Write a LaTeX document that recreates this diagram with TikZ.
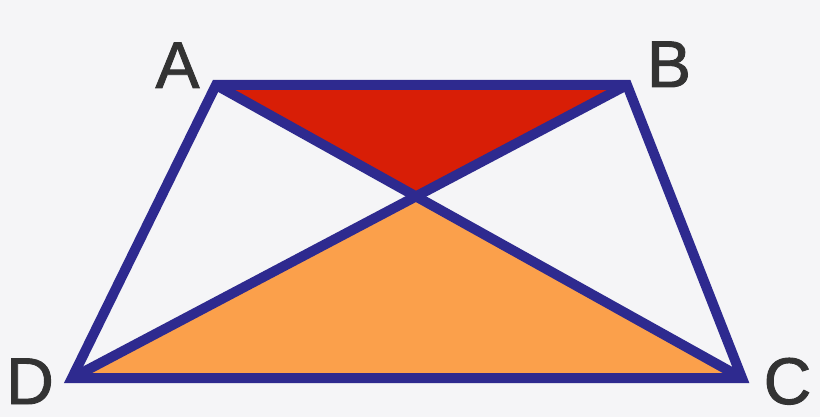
\documentclass[tikz,border=0pt]{standalone}
\usepackage{fontspec}
\setmainfont{Liberation Sans}
\newfontfamily\lblfont{Liberation Sans}[FakeBold=1.4]
\usetikzlibrary{calc}
\definecolor{bg}{HTML}{F5F5F7}
\definecolor{edge}{HTML}{2E2A8F}
\definecolor{redfill}{HTML}{D81E06}
\definecolor{orangefill}{HTML}{FBA04B}
\definecolor{labelcol}{HTML}{333333}
\tikzset{
  edgeline/.style={draw=edge, line width=10pt, line join=miter},
  vlabel/.style={anchor=base, inner sep=0pt, text=labelcol, font=\lblfont\fontsize{66}{66}\selectfont},
}
\begin{document}
\begin{tikzpicture}[x=1pt,y=-1pt]
\fill[bg] (0,0) rectangle (820,417);
\useasboundingbox (0,0) rectangle (820,417);
\coordinate (A) at (216,85);
\coordinate (B) at (627,85);
\coordinate (C) at (742,378);
\coordinate (D) at (72,378);
\coordinate (O) at (intersection of A--C and B--D);
\fill[redfill] (A) -- (B) -- (O) -- cycle;
\fill[orangefill] (D) -- (C) -- (O) -- cycle;
\draw[edgeline] (A) -- (B) -- (C) -- (D) -- cycle;
\draw[edgeline] (A) -- (C);
\draw[edgeline] (B) -- (D);
\node[vlabel] (lA) at (177.5,88) {A};
\node[vlabel] (lB) at (669,87) {B};
\node[vlabel] (lC) at (787.5,404) {C};
\node[vlabel] (lD) at (30,404) {D};
\end{tikzpicture}
\end{document}
